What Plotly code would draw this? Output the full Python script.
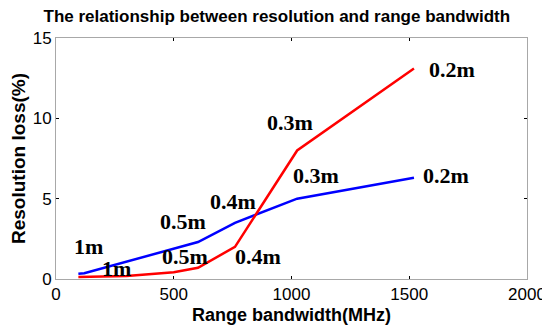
import plotly.graph_objects as go

# Data
blue_x = [95, 120, 603, 760, 1024, 1520]
blue_y = [0.33, 0.36, 2.3, 3.5, 5.0, 6.3]
red_x = [95, 300, 500, 603, 760, 1024, 1520]
red_y = [0.12, 0.18, 0.42, 0.7, 2.0, 8.0, 13.1]

blue_labels = ["1m", "0.5m", "0.4m", "0.3m", "0.2m"]
red_labels = ["1m", "0.5m", "0.4m", "0.3m", "0.2m"]

x_ticks = [0, 500, 1000, 1500, 2000]
y_ticks = [0, 5, 10, 15]

# label anchor positions (layout)
blue_label_pos = [(136, 2.0), (540, 3.55), (752, 4.85), (1102, 6.44), (1656, 6.44)]
red_label_pos = [(259, 0.68), (548, 1.43), (858, 1.43), (994, 9.77), (1682, 13.07)]

fig = go.Figure()
fig.add_trace(go.Scatter(x=blue_x, y=blue_y, mode="lines",
                         line=dict(color="#0000ff", width=2.5), showlegend=False))
fig.add_trace(go.Scatter(x=red_x, y=red_y, mode="lines",
                         line=dict(color="#ff0000", width=2.5), showlegend=False))

annots = []
for t, (px, py) in zip(blue_labels + red_labels, blue_label_pos + red_label_pos):
    annots.append(dict(x=px, y=py, text="<b>" + t + "</b>", showarrow=False,
                       xref="x", yref="y",
                       font=dict(family="Liberation Serif", size=22, color="black")))

axis_font = dict(family="Liberation Sans", size=17, color="black")

# page body has an 8px margin, so the figure is sized to fit the 550x334 window
fig.update_layout(
    width=542, height=326,
    margin=dict(l=48, r=23, t=30, b=55, autoexpand=False),
    paper_bgcolor="white", plot_bgcolor="white",
    title=dict(text="<b>The relationship between resolution and range bandwidth</b>",
               x=0.496, xanchor="center", y=0.994, yanchor="top",
               pad=dict(t=0, b=0),
               font=dict(family="Liberation Sans", size=17, color="black")),
    annotations=annots,
    xaxis=dict(range=[0, 2000], tickvals=x_ticks, ticks="inside", ticklen=3,
               tickcolor="black", showline=True, linecolor="#a8a8a8", linewidth=1,
               mirror="ticks", showgrid=False, zeroline=False,
               tickfont=axis_font,
               title=dict(text="<b>Range bandwidth(MHz)</b>", standoff=4,
                          font=dict(family="Liberation Sans", size=18, color="black")),
               tickprefix="<b>", ticksuffix="</b>"),
    yaxis=dict(range=[0, 15], tickvals=y_ticks, ticks="inside", ticklen=3,
               tickcolor="black", showline=True, linecolor="#a8a8a8", linewidth=1,
               mirror="ticks", showgrid=False, zeroline=False,
               tickfont=axis_font,
               title=dict(text="<b>Resolution loss(%)</b>", standoff=6,
                          font=dict(family="Liberation Sans", size=19, color="black")),
               tickprefix="<b>", ticksuffix="</b>"),
)

fig.write_html("out.html")
